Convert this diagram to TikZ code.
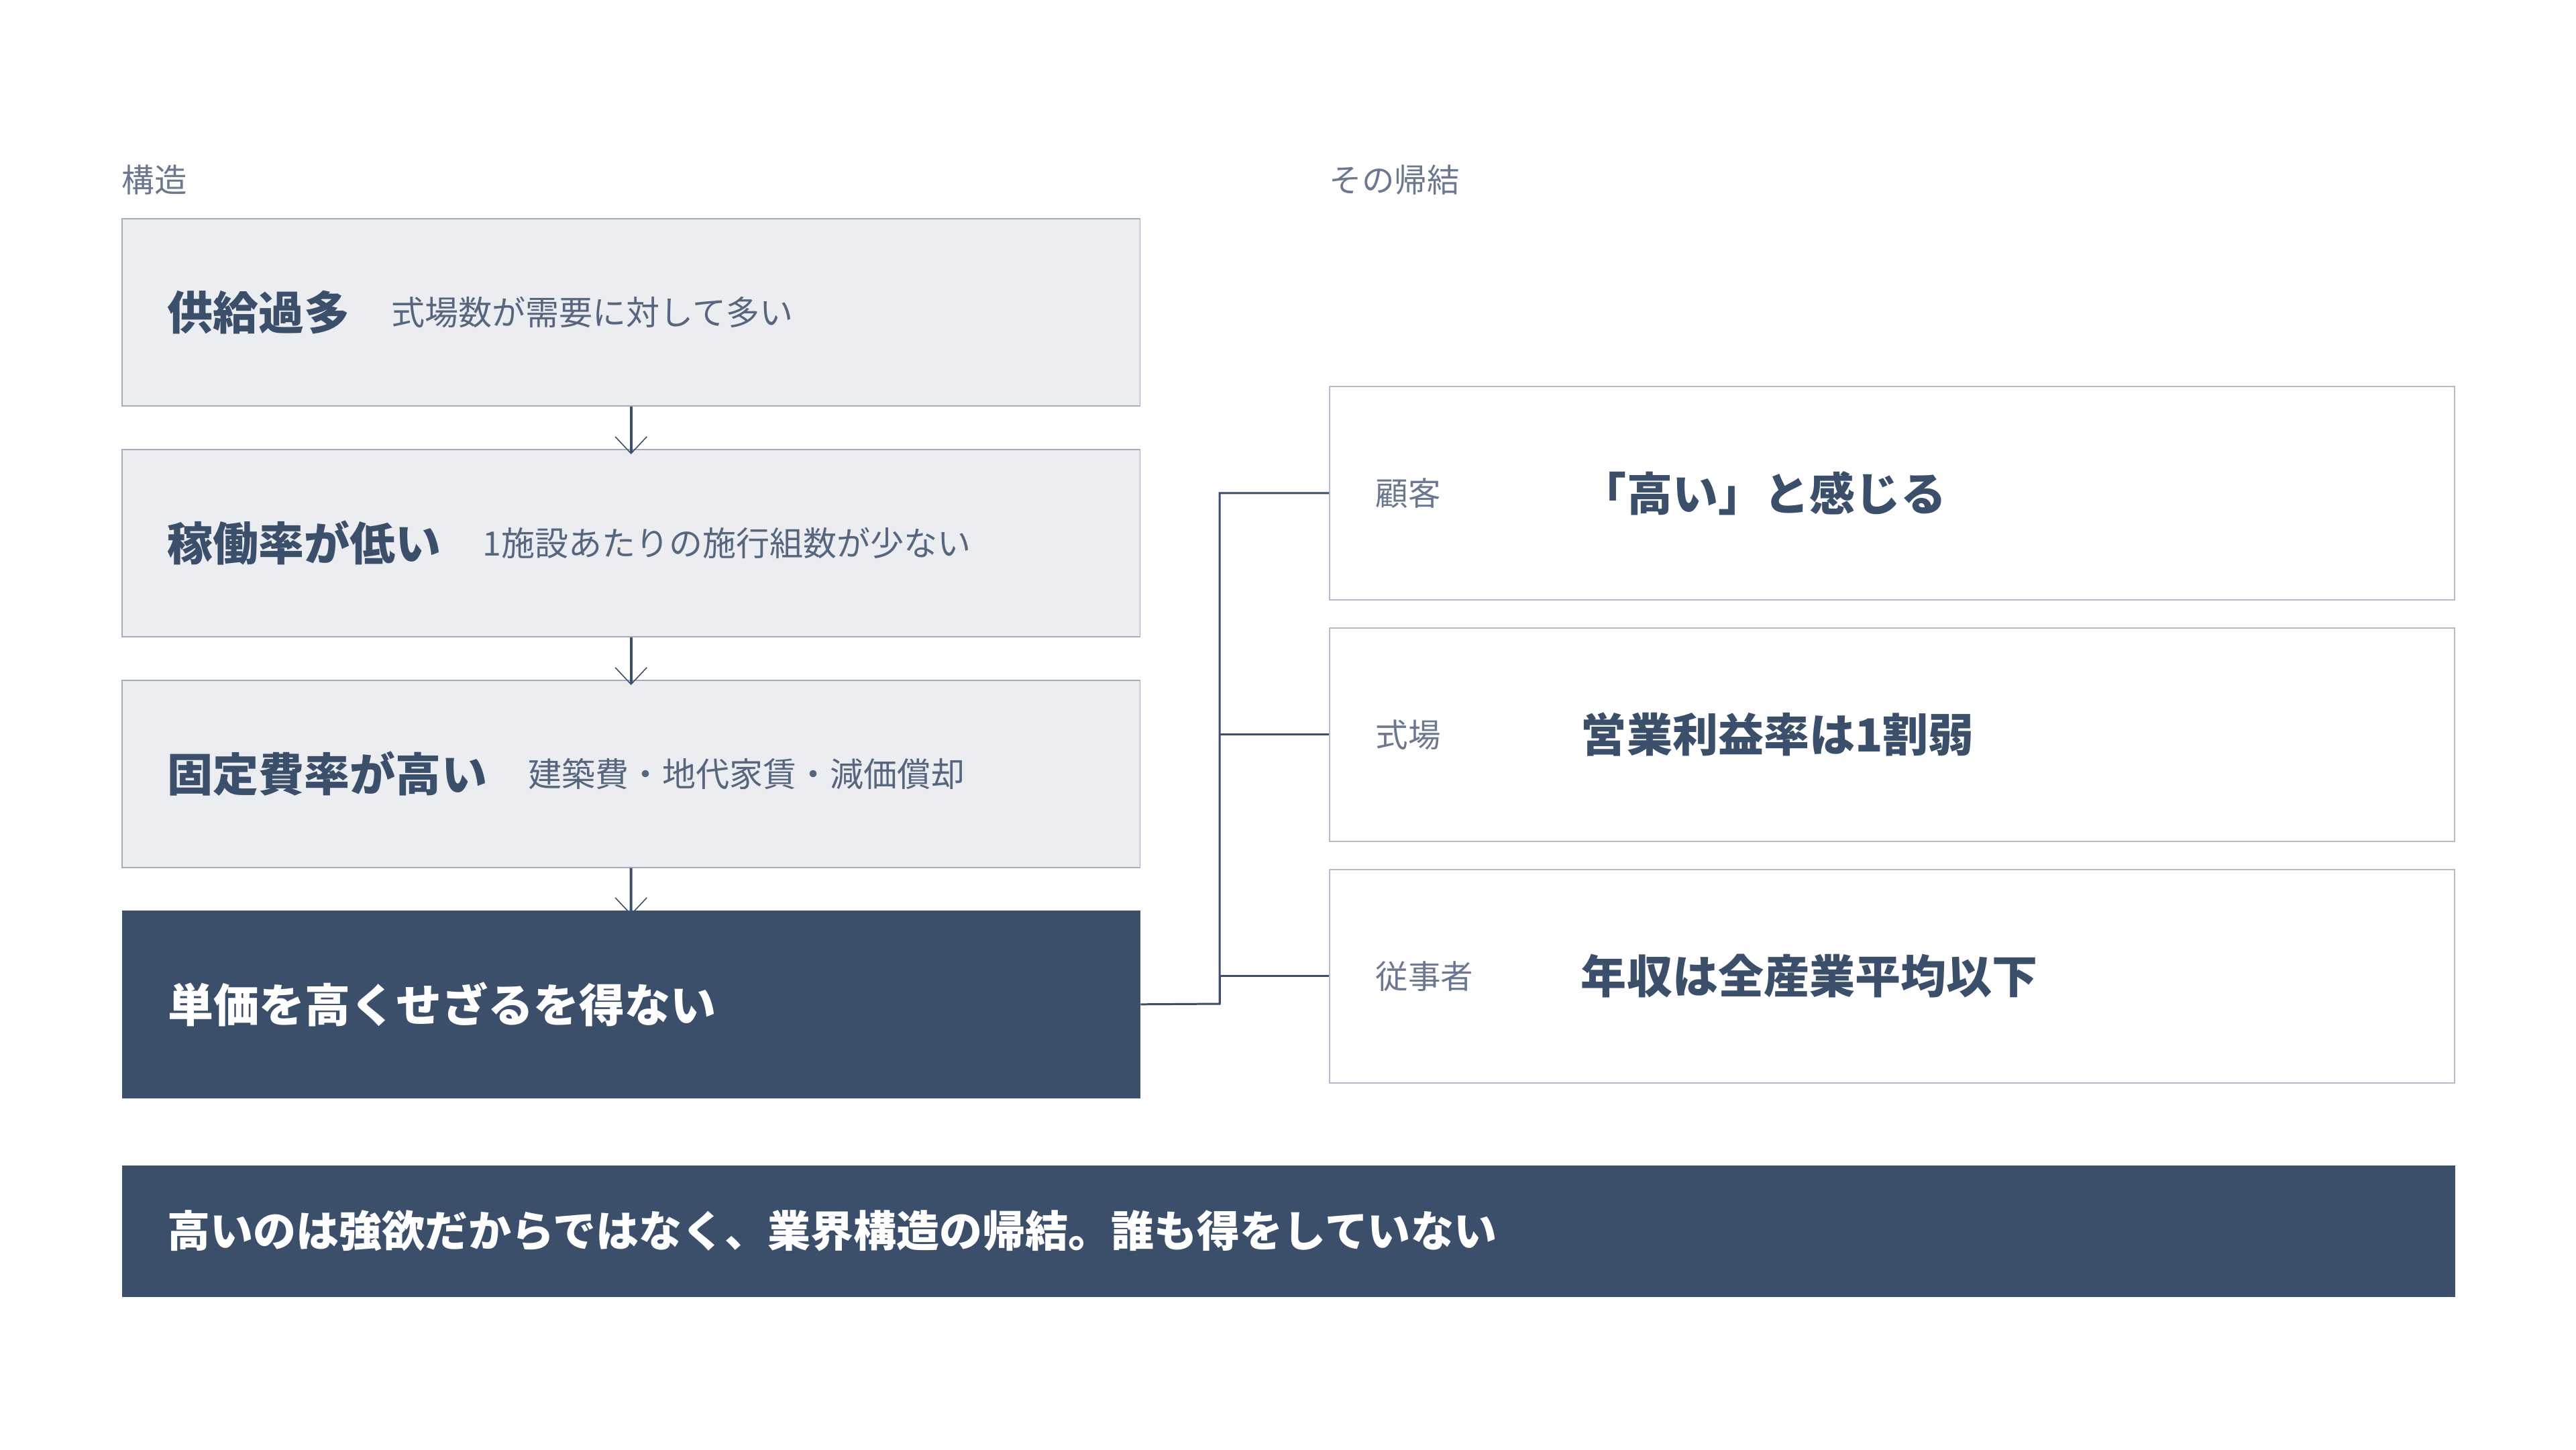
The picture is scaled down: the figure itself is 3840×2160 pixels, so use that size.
\documentclass[tikz,border=0pt]{standalone}
\usepackage{fontspec}
\usepackage{tikz}
\usetikzlibrary{arrows.meta}
\setmainfont{Noto Sans CJK JP}

\definecolor{navy}{HTML}{3C4F6A}
\definecolor{boxfill}{HTML}{ECEDF1}
\definecolor{boxline}{HTML}{A3ADBC}
\definecolor{cardline}{HTML}{B4BCC8}
\definecolor{subtext}{HTML}{56667F}
\definecolor{labeltext}{HTML}{6B7890}

\tikzset{
  stepbox/.style={draw=boxline, fill=boxfill, line width=0.43pt, anchor=north west,
    minimum width=15.17cm, minimum height=2.79cm, inner sep=0pt},
  keybox/.style={fill=navy, anchor=north west, minimum width=15.17cm,
    minimum height=2.8cm, inner sep=0pt},
  card/.style={draw=cardline, fill=white, line width=0.43pt, anchor=north west,
    minimum width=16.76cm, minimum height=3.18cm, inner sep=0pt},
  ttl/.style={anchor=west, inner sep=0pt, text=navy, font=\bfseries\fontsize{19.35pt}{22pt}\selectfont},
  sub/.style={anchor=west, inner sep=0pt, text=subtext, font=\fontsize{14.23pt}{17pt}\selectfont},
  tag/.style={anchor=west, inner sep=0pt, text=labeltext, font=\fontsize{13.8pt}{16pt}\selectfont},
  flow/.style={draw=navy, line width=1.14pt, shorten >=-0.08cm,
    -{Straight Barb[length=0.25cm, width=0.47cm, line width=0.45pt]}},
  link/.style={draw=navy, line width=0.85pt}
}

\begin{document}
\begin{tikzpicture}[x=0.01cm,y=0.01cm,yscale=-1,xscale=1]
\path[use as bounding box, fill=white] (0,0) rectangle (3840,2160);

% Section labels
\node[tag] (lstruct) at (181,268) {構造};
\node[tag] (lresult) at (1981,268) {その帰結};

%Shape: Rectangle [structure steps]
\node[stepbox] (b1) at (181,325) {};
\node[stepbox] (b2) at (181,669) {};
\node[stepbox] (b3) at (181,1013) {};
\node[keybox] (b4) at (181,1356) {};

% Text Node
\node[ttl] (t1) at ([xshift=0.68cm]b1.west) {供給過多};
\node[sub] (s1) at ([xshift=0.6cm]t1.east) {式場数が需要に対して多い};
\node[ttl] (t2) at ([xshift=0.68cm]b2.west) {稼働率が低い};
\node[sub] (s2) at ([xshift=0.6cm]t2.east) {1施設あたりの施行組数が少ない};
\node[ttl] (t3) at ([xshift=0.68cm]b3.west) {固定費率が高い};
\node[sub] (s3) at ([xshift=0.6cm]t3.east) {建築費・地代家賃・減価償却};
\node[ttl, text=white] (t4) at ([xshift=0.69cm]b4.west) {単価を高くせざるを得ない};

%Straight Lines [arrows]
\draw[flow] (b1.south) -- (b2.north);
\draw[flow] (b2.south) -- (b3.north);
\draw[flow] (b3.south) -- (b4.north);

%Shape: Rectangle [results]
\node[card] (r1) at (1981,575) {};
\node[card] (r2) at (1981,935) {};
\node[card] (r3) at (1981,1295) {};

% Text Node
\node[tag] (w1) at ([xshift=0.69cm]r1.west) {顧客};
\node[ttl] (v1) at ([xshift=3.75cm]r1.west) {「高い」と感じる};
\node[tag] (w2) at ([xshift=0.69cm]r2.west) {式場};
\node[ttl] (v2) at ([xshift=3.75cm]r2.west) {営業利益率は1割弱};
\node[tag] (w3) at ([xshift=0.69cm]r3.west) {従事者};
\node[ttl] (v3) at ([xshift=3.75cm]r3.west) {年収は全産業平均以下};

%Straight Lines [branch]
\coordinate (jn) at (1818,1496);
\draw[link] (b4.east) -- (jn) |- (r1.west);
\draw[link] (jn |- r2.west) -- (r2.west);
\draw[link] (jn) |- (r3.west);

%Shape: Rectangle [summary]
\node[fill=navy, anchor=north west, minimum width=34.76cm, minimum height=1.96cm, inner sep=0pt] (bar) at (181,1736) {};
\node[ttl, text=white, font=\bfseries\fontsize{18.21pt}{21pt}\selectfont] (tbar) at ([xshift=0.68cm]bar.west) {高いのは強欲だからではなく、業界構造の帰結。誰も得をしていない};

\end{tikzpicture}
\end{document}
